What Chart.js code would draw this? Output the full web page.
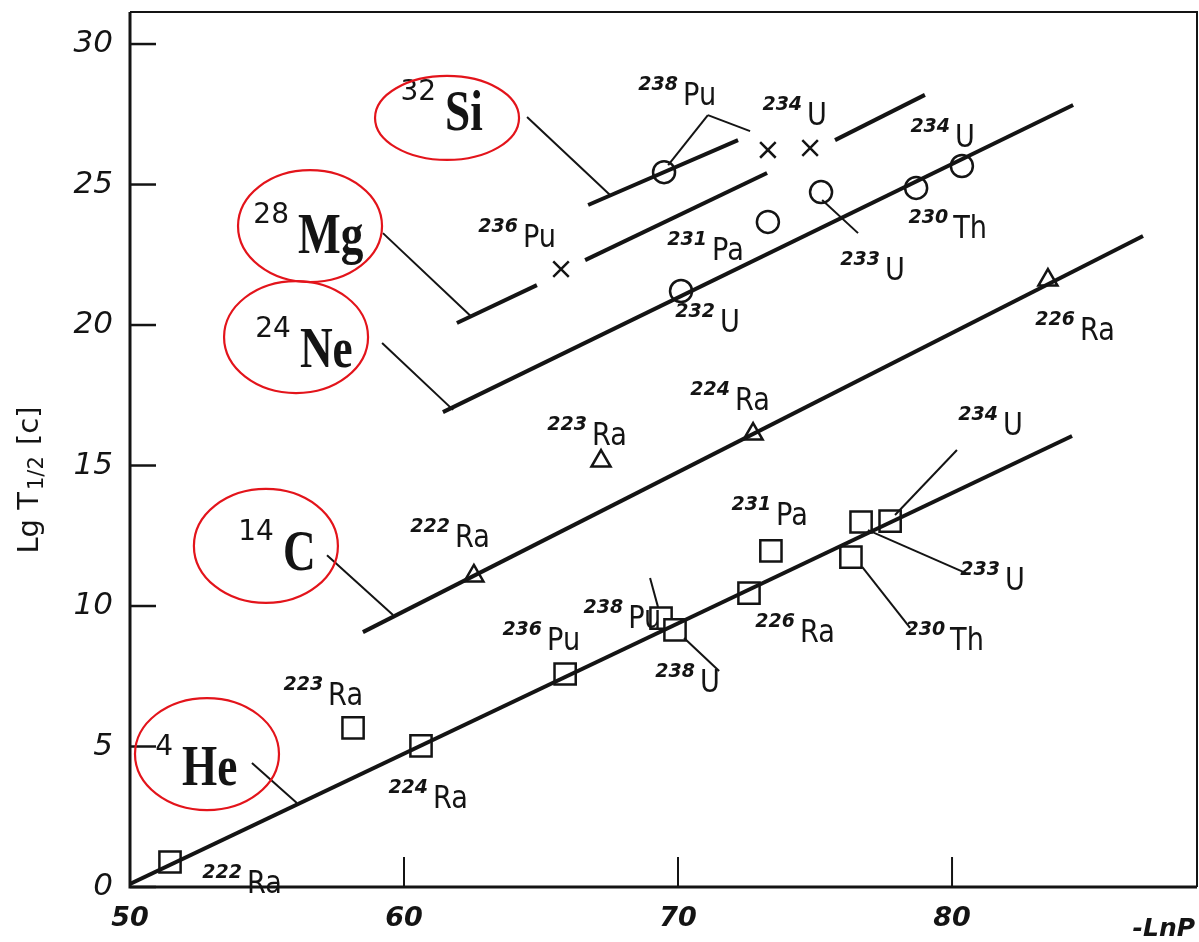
<!DOCTYPE html>
<html>
<head>
<meta charset="utf-8">
<script src="https://cdn.jsdelivr.net/npm/chart.js@4.4.1/dist/chart.umd.min.js"></script>
<style>
html, body { margin: 0; padding: 0; background: #fff; }
#wrap { width: 1199px; height: 942px; }
</style>
</head>
<body>
<div id="wrap"><canvas id="chart" width="1199" height="942"></canvas></div>
<script>
// axes: x = -ln P, y = lg T1/2 [s]
const xMin = 50, xMax = 88.94, yMin = 0, yMax = 31.14;

// 4He emitters (squares)
const heX = [51.46, 58.14, 60.62, 65.88, 69.38, 69.89, 72.59, 73.39, 76.31, 76.68, 77.74];
const heY = [0.89, 5.66, 5.02, 7.58, 9.57, 9.15, 10.46, 11.96, 11.74, 12.99, 13.02];
// 14C (triangles)
const cX = [62.55, 67.19, 72.74, 83.50];
const cY = [11.07, 15.16, 16.12, 21.60];
// 24Ne (circles)
const neX = [70.11, 73.28, 75.22, 78.69, 80.36];
const neY = [21.21, 23.67, 24.73, 24.88, 25.66];
// 28Mg (crosses)
const mgX = [65.73, 73.28, 74.82];
const mgY = [21.99, 26.23, 26.30];
// 32Si (circle)
const siX = [69.49];
const siY = [25.44];

// fitted lines
const heLineX = [50.0, 84.38], heLineY = [0.11, 16.05];
const cLineX = [58.50, 86.97], cLineY = [9.07, 23.17];
const neLineX = [61.42, 84.42], neLineY = [16.90, 27.83];
const siLineX = [66.72, 72.19], siLineY = [24.27, 26.58];
// Mg line is broken round the crosses
const mgSegs = [
  [61.93, 20.07, 64.85, 21.42],
  [66.61, 22.31, 73.25, 25.41],
  [75.73, 26.58, 79.01, 28.19]
];
// thin leader lines
const leaders = [
  [64.49, 27.40, 67.52, 24.63],
  [59.23, 23.27, 62.48, 20.28],
  [59.20, 19.36, 61.79, 16.98],
  [57.19, 11.81, 59.60, 9.68],
  [54.45, 4.41, 56.09, 2.99],
  [71.09, 27.47, 69.64, 25.69],
  [71.09, 27.47, 72.63, 26.90],
  [75.26, 24.45, 76.57, 23.27],
  [77.92, 13.24, 80.18, 15.55],
  [76.93, 12.70, 80.51, 11.17],
  [76.72, 11.39, 78.47, 9.22],
  [69.27, 9.96, 68.98, 11.00],
  [70.22, 8.86, 71.50, 7.69]
];

// isotope labels: mass, element, x, y (element baseline)
const isoLabels = [
  ['222', 'Ra', 54.27, -0.21],
  ['223', 'Ra', 57.23, 6.48],
  ['224', 'Ra', 61.06, 2.81],
  ['236', 'Pu', 65.22, 8.43],
  ['238', 'Pu', 68.18, 9.22],
  ['238', 'U', 70.80, 6.94],
  ['226', 'Ra', 74.45, 8.72],
  ['231', 'Pa', 73.58, 12.88],
  ['230', 'Th', 79.93, 8.43],
  ['233', 'U', 81.93, 10.57],
  ['234', 'U', 81.86, 16.09],
  ['222', 'Ra', 61.86, 12.10],
  ['223', 'Ra', 66.86, 15.73],
  ['224', 'Ra', 72.08, 16.98],
  ['226', 'Ra', 84.67, 19.47],
  ['232', 'U', 71.53, 19.75],
  ['231', 'Pa', 71.24, 22.31],
  ['233', 'U', 77.55, 21.60],
  ['230', 'Th', 80.04, 23.10],
  ['234', 'U', 80.11, 26.33],
  ['236', 'Pu', 64.34, 22.78],
  ['234', 'U', 74.71, 27.12],
  ['238', 'Pu', 70.18, 27.83]
];
// cluster names, with red rings round them
const clusterLabels = [
  ['32', 'Si', 61.50, 26.94],
  ['28', 'Mg', 56.13, 22.56],
  ['24', 'Ne', 56.20, 18.51],
  ['14', 'C', 55.58, 11.28],
  ['4', 'He', 51.90, 3.63]
];
const ringX = [61.57, 56.57, 56.06, 54.96, 52.81];
const ringY = [27.37, 23.52, 19.57, 12.14, 4.73];
const ringRy = [42, 56, 56, 57, 56];

const ink = '#141414';

function pts(xs, ys) {
  return xs.map((x, i) => ({ x: x, y: ys[i] }));
}

function markers(xs, ys, style, r) {
  return {
    data: pts(xs, ys),
    showLine: false,
    pointStyle: style,
    pointRadius: r,
    pointHoverRadius: r,
    pointBorderWidth: 2.5,
    pointBorderColor: ink,
    pointBackgroundColor: '#fff'
  };
}

function line(xs, ys, w) {
  return {
    data: pts(xs, ys),
    showLine: true,
    borderColor: ink,
    borderWidth: w,
    pointRadius: 0,
    pointHoverRadius: 0
  };
}

let datasets = [];
datasets.push(line(heLineX, heLineY, 4));
datasets.push(line(cLineX, cLineY, 4));
datasets.push(line(neLineX, neLineY, 4));
datasets.push(line(siLineX, siLineY, 4));
mgSegs.forEach(s => datasets.push(line([s[0], s[2]], [s[1], s[3]], 4)));
leaders.forEach(s => datasets.push(line([s[0], s[2]], [s[1], s[3]], 2)));
datasets.push(markers(heX, heY, 'rect', 15));
datasets.push(markers(cX, cY, 'triangle', 11));
datasets.push(markers(neX, neY, 'circle', 11));
datasets.push(markers(siX, siY, 'circle', 11));
datasets.push(markers(mgX, mgY, 'crossRot', 11));

const decor = {
  id: 'decor',
  afterDatasetsDraw(chart) {
    const ctx = chart.ctx, a = chart.chartArea;
    const xs = chart.scales.x, ys = chart.scales.y;
    ctx.save();
    ctx.strokeStyle = ink;
    ctx.fillStyle = ink;
    ctx.lineCap = 'butt';

    // frame
    ctx.lineWidth = 3;
    ctx.beginPath();
    ctx.moveTo(a.left, a.top);
    ctx.lineTo(a.left, a.bottom);
    ctx.lineTo(a.right, a.bottom);
    ctx.stroke();
    ctx.lineWidth = 2;
    ctx.beginPath();
    ctx.moveTo(a.left, a.top);
    ctx.lineTo(a.right, a.top);
    ctx.lineTo(a.right, a.bottom);
    ctx.stroke();

    // inward ticks
    ctx.lineWidth = 2.5;
    ys.ticks.forEach(t => {
      const py = ys.getPixelForValue(t.value);
      ctx.beginPath();
      ctx.moveTo(a.left, py);
      ctx.lineTo(a.left + 26, py);
      ctx.stroke();
    });
    ctx.lineWidth = 2;
    xs.ticks.forEach(t => {
      if (t.value === xMin) return;
      const px = xs.getPixelForValue(t.value);
      ctx.beginPath();
      ctx.moveTo(px, a.bottom);
      ctx.lineTo(px, a.bottom - 30);
      ctx.stroke();
    });

    // isotope labels
    ctx.textAlign = 'left';
    ctx.textBaseline = 'alphabetic';
    isoLabels.forEach(l => {
      const px = xs.getPixelForValue(l[2]), py = ys.getPixelForValue(l[3]);
      ctx.font = 'italic bold 19px "DejaVu Sans"';
      const w = ctx.measureText(l[0]).width;
      ctx.fillText(l[0], px - w - 5, py - 15);
      ctx.save();
      ctx.translate(px, py);
      ctx.scale(0.85, 1);
      ctx.font = '32px "DejaVu Sans"';
      ctx.fillText(l[1], 0, 0);
      ctx.restore();
    });

    // cluster names
    clusterLabels.forEach(l => {
      const px = xs.getPixelForValue(l[2]), py = ys.getPixelForValue(l[3]);
      ctx.font = '28px "DejaVu Sans"';
      const w = ctx.measureText(l[0]).width;
      ctx.fillText(l[0], px - w - 9, py - 30);
      ctx.save();
      ctx.translate(px, py);
      ctx.scale(0.78, 1);
      ctx.font = 'bold 58px "Liberation Serif"';
      ctx.fillText(l[1], 0, 0);
      ctx.restore();
    });

    // red rings
    ctx.strokeStyle = '#e3141b';
    ctx.lineWidth = 2.2;
    ringX.forEach((v, i) => {
      ctx.beginPath();
      ctx.ellipse(xs.getPixelForValue(v), ys.getPixelForValue(ringY[i]), 72, ringRy[i], 0, 0, Math.PI * 2);
      ctx.stroke();
    });

    // axis titles
    ctx.fillStyle = ink;
    ctx.font = 'bold italic 25px "DejaVu Sans"';
    ctx.textAlign = 'right';
    ctx.fillText('-LnP', a.right - 2, 936);

    ctx.save();
    ctx.translate(38, 482);
    ctx.rotate(-Math.PI / 2);
    ctx.textAlign = 'left';
    ctx.font = '29px "DejaVu Sans"';
    const p1 = 'Lg T', p2 = '1/2', p3 = ' [c]';
    const w1 = ctx.measureText(p1).width;
    ctx.font = '21px "DejaVu Sans"';
    const w2 = ctx.measureText(p2).width;
    ctx.font = '29px "DejaVu Sans"';
    const w3 = ctx.measureText(p3).width;
    let sx = -(w1 + w2 + w3) / 2;
    ctx.fillText(p1, sx, 0);
    ctx.font = '21px "DejaVu Sans"';
    ctx.fillText(p2, sx + w1 + 2, 5);
    ctx.font = '29px "DejaVu Sans"';
    ctx.fillText(p3, sx + w1 + w2 + 4, 0);
    ctx.restore();

    ctx.restore();
  }
};

function noPad(s) {
  s.paddingTop = 0;
  s.paddingBottom = 0;
  s.paddingLeft = 0;
  s.paddingRight = 0;
}

new Chart(document.getElementById('chart'), {
  type: 'scatter',
  data: { datasets: datasets },
  options: {
    responsive: false,
    animation: false,
    layout: { autoPadding: false, padding: { top: 12, right: 2, left: 0, bottom: 0 } },
    plugins: {
      legend: { display: false },
      tooltip: { enabled: false }
    },
    scales: {
      x: {
        type: 'linear',
        min: xMin,
        max: xMax,
        grid: { display: false, drawTicks: false },
        border: { display: false },
        ticks: {
          stepSize: 10,
          includeBounds: false,
          padding: 16,
          color: ink,
          font: { family: 'DejaVu Sans', size: 27, style: 'italic', weight: 'bold' }
        },
        afterFit: s => { s.height = 55; noPad(s); }
      },
      y: {
        type: 'linear',
        min: yMin,
        max: yMax,
        grid: { display: false, drawTicks: false },
        border: { display: false },
        ticks: {
          stepSize: 5,
          includeBounds: false,
          padding: 17,
          color: ink,
          font: { family: 'DejaVu Sans', size: 31, style: 'italic' }
        },
        afterFit: s => { s.width = 130; noPad(s); }
      }
    }
  },
  plugins: [decor]
});
</script>
</body>
</html>
